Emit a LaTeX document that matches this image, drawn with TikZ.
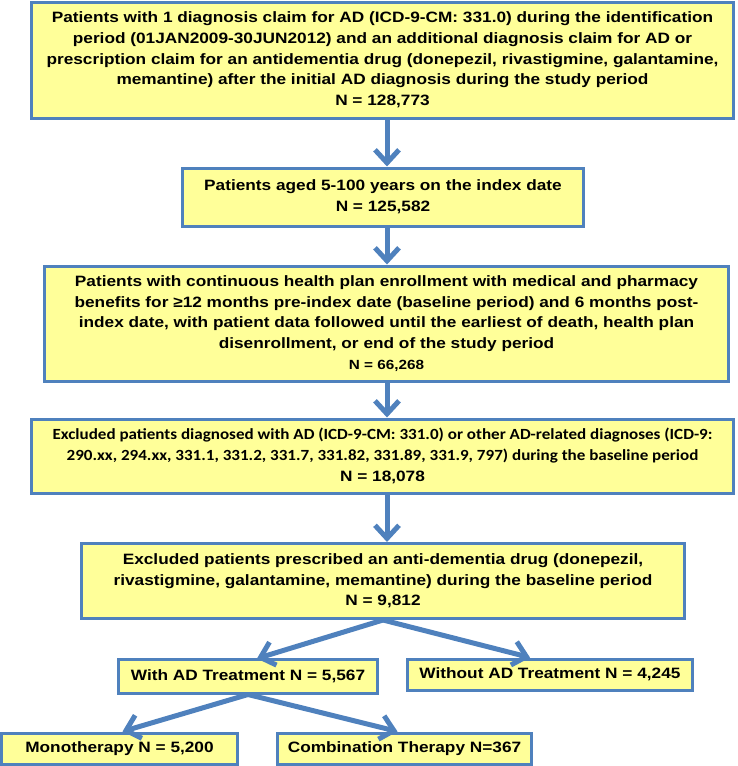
\documentclass[tikz,border=0pt]{standalone}
\usepackage{fontspec}
\newfontfamily\arialfont{Liberation Sans}[FakeStretch=1.15]
\newfontfamily\calibfont{Carlito}[FakeStretch=1.1]
\usetikzlibrary{arrows.meta}
\definecolor{boxblue}{HTML}{4F81BD}
\definecolor{boxfill}{HTML}{FFFF99}
\begin{document}
\begin{tikzpicture}[x=1pt,y=-1pt,
  fbox/.style={draw=boxblue, line width=3pt, fill=boxfill, inner sep=0pt, align=center,
    font=\arialfont\bfseries\fontsize{15}{20.7}\selectfont},
  flow/.style={draw=boxblue, line width=5pt, -{Straight Barb[length=13pt,width=24pt]}}]
\useasboundingbox (0,0) rectangle (737,766);
\coordinate (spine) at (387,0);
\node[fbox, minimum width=702pt, minimum height=116pt] (b1) at (382.5,60)
  {Patients with 1 diagnosis claim for AD (ICD-9-CM: 331.0) during the identification\\
   period (01JAN2009-30JUN2012) and an additional diagnosis claim for AD or\\
   prescription claim for an antidementia drug (donepezil, rivastigmine, galantamine,\\
   memantine) after the initial AD diagnosis during the study period\\
   N = 128,773};
\node[fbox, minimum width=401pt, minimum height=58pt] (b2) at (383,197)
  {Patients aged 5-100 years on the index date\\ N = 125,582};
\node[fbox, minimum width=684pt, minimum height=115pt] (b3) at (386.5,323.5)
  {Patients with continuous health plan enrollment with medical and pharmacy\\
   benefits for ≥12 months pre-index date (baseline period) and 6 months post-\\
   index date, with patient data followed until the earliest of death, health plan\\
   disenrollment, or end of the study period\\
   {\fontsize{13.3}{20.7}\selectfont N = 66,268}};
\node[fbox, minimum width=702pt, minimum height=74pt,
      font=\calibfont\bfseries\fontsize{15.5}{20.7}\selectfont] (b4) at (382.5,456)
  {Excluded patients diagnosed with AD (ICD-9-CM: 331.0) or other AD-related diagnoses (ICD-9:\\
   290.xx, 294.xx, 331.1, 331.2, 331.7, 331.82, 331.89, 331.9, 797) during the baseline period\\
   {\arialfont\bfseries\fontsize{15}{20.7}\selectfont N = 18,078}};
\node[fbox, minimum width=603pt, minimum height=75pt] (b5) at (383,581)
  {Excluded patients prescribed an anti-dementia drug (donepezil,\\
   rivastigmine, galantamine, memantine) during the baseline period\\
   N = 9,812};
\node[fbox, minimum width=259pt, minimum height=34pt] (wad) at (248,676)
  {With AD Treatment N = 5,567};
\node[fbox, minimum width=285pt, minimum height=31pt] (woad) at (550,674.5)
  {Without AD Treatment N = 4,245};
\node[fbox, minimum width=236pt, minimum height=31pt] (mono) at (119.5,748.5)
  {Monotherapy N = 5,200};
\node[fbox, minimum width=254pt, minimum height=31pt] (combo) at (404.5,748.5)
  {Combination Therapy N=367};
\draw[flow] (b1.south -| spine) -- (b2.north -| spine);
\draw[flow] (b2.south -| spine) -- (b3.north -| spine);
\draw[flow] (b3.south -| spine) -- (b4.north -| spine);
\draw[flow] (b4.south -| spine) -- (b5.north -| spine);
\draw[flow] (b5.south) -- ([xshift=9pt,yshift=-1pt]wad.north);
\draw[flow] (b5.south) -- ([xshift=-20pt]woad.north);
\draw[flow] (wad.south) -- ([xshift=3pt]mono.north);
\draw[flow] (wad.south) -- ([xshift=-7pt]combo.north);
\end{tikzpicture}
\end{document}
